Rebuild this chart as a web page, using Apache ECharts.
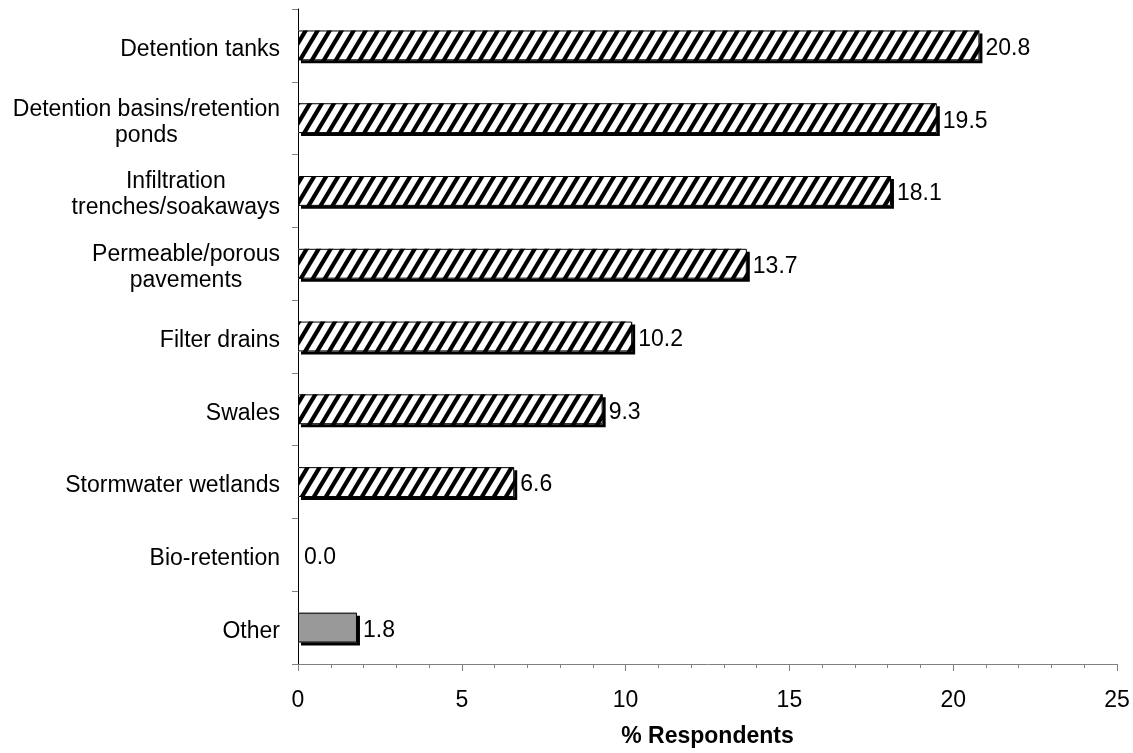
<!DOCTYPE html>
<html>
<head>
<meta charset="utf-8">
<script src="https://cdn.jsdelivr.net/npm/echarts@6/dist/echarts.min.js"></script>
<style>
  html, body { margin: 0; padding: 0; background: #fff; }
  #chart { width: 1133px; height: 753px; }
</style>
</head>
<body>
<div id="chart"></div>
<script>
// SuDS techniques used, share of respondents (%)
const categories = [
  'Detention tanks',
  'Detention basins/retention\nponds',
  'Infiltration\ntrenches/soakaways',
  'Permeable/porous\npavements',
  'Filter drains',
  'Swales',
  'Stormwater wetlands',
  'Bio-retention',
  'Other'
];
const values = [20.8, 19.5, 18.1, 13.7, 10.2, 9.3, 6.6, 0.0, 1.8];
const xTicks = [0, 5, 10, 15, 20, 25];

const FONT = '"Liberation Sans", Arial, sans-serif';
const FS = 23;

// diagonal hatch tile for the technique bars; strokes run past the tile
// edges so the stripes join seamlessly when repeated
function makeHatch() {
  const w = 12, h = 20;
  const c = document.createElement('canvas');
  c.width = w; c.height = h;
  const g = c.getContext('2d');
  g.fillStyle = '#fff';
  g.fillRect(0, 0, w, h);
  g.strokeStyle = '#000';
  g.lineWidth = 4.2;
  for (let k = -2 * w; k <= 2 * w; k += w) {
    g.beginPath();
    g.moveTo(k - w, 2 * h);
    g.lineTo(k + 2 * w, -h);
    g.stroke();
  }
  return c;
}
const hatch = { image: makeHatch(), repeat: 'repeat' };

// filled bodies with a hard drop shadow (no outline, so the shadow stays outside)
const fillData = values.map((v, i) => ({
  value: v,
  itemStyle: v === 0
    ? { color: 'transparent', shadowColor: 'transparent' }
    : { color: categories[i] === 'Other' ? '#999999' : hatch }
}));
// thin outlines drawn on top, carrying the value labels
const outlineData = values.map((v) => ({
  value: v,
  itemStyle: v === 0 ? { borderWidth: 0 } : {}
}));

const chart = echarts.init(document.getElementById('chart'), null, { renderer: 'canvas' });
chart.setOption({
  animation: false,
  backgroundColor: '#fff',
  textStyle: { fontFamily: FONT, color: '#000' },
  grid: { left: 298, right: 16, top: 9, bottom: 89, containLabel: false },
  xAxis: {
    type: 'value',
    min: xTicks[0],
    max: xTicks[xTicks.length - 1],
    interval: xTicks[1] - xTicks[0],
    name: '% Respondents',
    nameLocation: 'middle',
    nameGap: 61,
    nameTextStyle: { fontFamily: FONT, fontSize: FS, fontWeight: 'bold', color: '#000' },
    axisLine: { show: true, lineStyle: { color: '#808080', width: 1 } },
    axisTick: { show: true, inside: false, length: 7, lineStyle: { color: '#808080' } },
    minorTick: { show: true, splitNumber: 5, length: 4, lineStyle: { color: '#808080' } },
    axisLabel: { fontFamily: FONT, fontSize: FS, color: '#000', margin: 25 },
    splitLine: { show: false }
  },
  yAxis: {
    type: 'category',
    data: categories,
    inverse: true,
    axisLine: { show: true, lineStyle: { color: '#000', width: 1 } },
    axisTick: { show: true, inside: false, length: 6, lineStyle: { color: '#808080' } },
    axisLabel: {
      align: 'right',
      margin: 18,
      padding: [8, 0, 0, 0],
      fontFamily: FONT,
      fontSize: FS,
      lineHeight: 26,
      color: '#000',
      formatter: (v) => v.split('\n').map((l) => '{c|' + l + '}').join('\n'),
      rich: {
        c: { align: 'center', fontFamily: FONT, fontSize: FS, lineHeight: 26, color: '#000' }
      }
    },
    splitLine: { show: false }
  },
  series: [
    {
      type: 'bar',
      data: fillData,
      barWidth: '41%',
      barGap: '-100%',
      silent: true,
      itemStyle: {
        borderWidth: 0,
        shadowColor: '#000',
        shadowBlur: 0,
        shadowOffsetX: 3,
        shadowOffsetY: 3
      }
    },
    {
      type: 'bar',
      data: outlineData,
      barWidth: '41%',
      barGap: '-100%',
      itemStyle: {
        color: 'transparent',
        borderColor: '#000',
        borderWidth: 1
      },
      label: {
        show: true,
        position: 'right',
        distance: 6,
        offset: [0, 3],
        fontFamily: FONT,
        fontSize: FS,
        color: '#000',
        formatter: (p) => p.value.toFixed(1)
      }
    }
  ]
});
</script>
</body>
</html>
